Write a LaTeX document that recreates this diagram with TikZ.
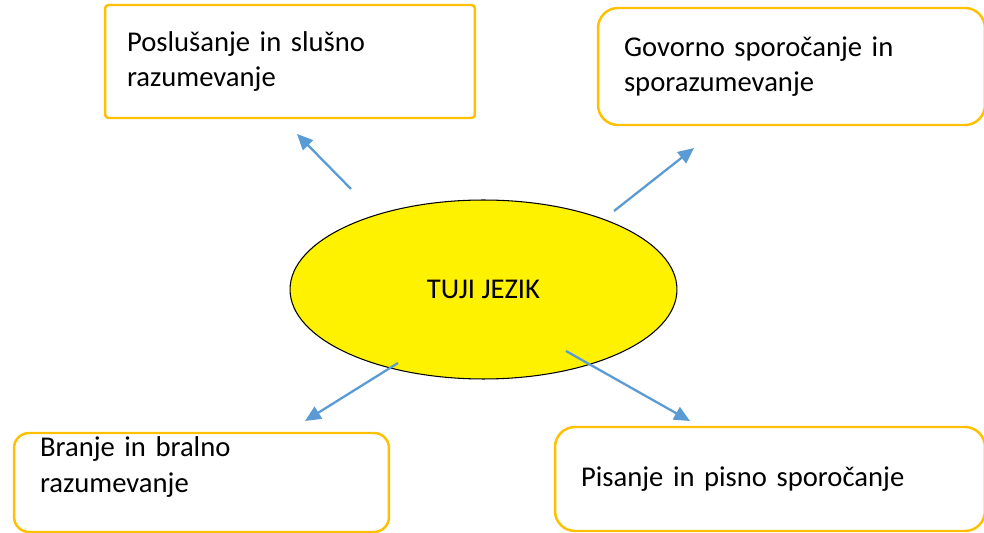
\documentclass[tikz,border=0pt]{standalone}
\usepackage{fontspec}
\setmainfont{Carlito}
\usepackage{tikz}
\usetikzlibrary{arrows.meta, positioning, shapes.geometric}

\definecolor{boxgold}{HTML}{FFC000}
\definecolor{arrowblue}{HTML}{5B9BD5}

\begin{document}
\begin{tikzpicture}[x=0.02cm, y=-0.02cm, font=\fontsize{16.3}{20}\selectfont,
    skill/.style={draw=boxgold, line width=1.4pt, rectangle, align=left, inner ysep=0pt},
    link/.style={draw=arrowblue, line width=1.3pt, -{Triangle[length=9pt, width=8pt]}}]

    \useasboundingbox (0,0) rectangle (984,533);

    % Central node
    \node (tuji) [draw, ellipse, fill=yellow, line width=0.6pt, minimum width=7.74cm, minimum height=3.58cm, inner sep=0pt] at (483.5,289.5) {TUJI JEZIK};

    % Nodes for the four skills, one in each corner
    \node (poslusanje) [skill, rounded corners=2pt, minimum width=7.4cm, minimum height=2.26cm, text width=6.52cm, inner xsep=0.44cm] at (290,61.5) {Poslušanje in slušno\\razumevanje};
    \node (govorno) [skill, rounded corners=0.4cm, minimum width=7.74cm, minimum height=2.34cm, text width=6.7cm, inner xsep=0.52cm] at (791.5,66.5) {Govorno sporočanje in\\sporazumevanje};
    \node (branje) [skill, rounded corners=0.3cm, minimum width=7.5cm, minimum height=1.98cm, text width=6.46cm, inner xsep=0.52cm] at (201.5,482.5) {Branje in bralno\\razumevanje\rule[-0.72cm]{0pt}{0.72cm}};
    \node (pisanje) [skill, rounded corners=0.4cm, minimum width=8.6cm, minimum height=2.08cm, text width=7.56cm, inner xsep=0.52cm] at (770,479) {Pisanje in pisno sporočanje};

    % Free ends of the arrows
    \coordinate (tujiNW) at (351,189);
    \coordinate (poslusanjeIn) at (297,134);
    \coordinate (tujiNE) at (614,211);
    \coordinate (govornoIn) at (694,148);
    \coordinate (tujiSW) at (398,363);
    \coordinate (branjeIn) at (305,421);
    \coordinate (tujiSE) at (566,351);
    \coordinate (pisanjeIn) at (690,421);

    % Draw arrows from the centre out to each skill
    \draw[link] (tujiNW) -- (poslusanjeIn);
    \draw[link] (tujiNE) -- (govornoIn);
    \draw[link] (tujiSW) -- (branjeIn);
    \draw[link] (tujiSE) -- (pisanjeIn);

\end{tikzpicture}
\end{document}
